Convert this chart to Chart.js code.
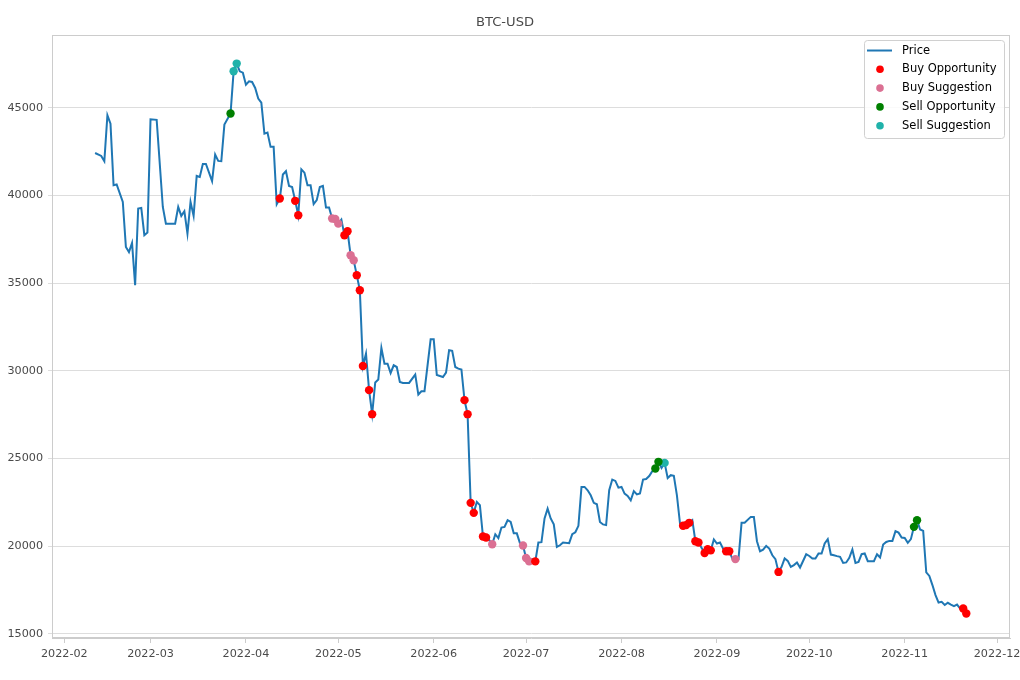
<!DOCTYPE html>
<html>
<head>
<meta charset="utf-8">
<script src="https://cdn.jsdelivr.net/npm/chart.js@4"></script>
<style>
  html, body { margin: 0; padding: 0; background: #fff; }
</style>
</head>
<body>
<canvas id="btc" width="1020" height="680"></canvas>
<script>
// day numbers count from 2022-02-01
const monthDays = [0, 28, 59, 89, 120, 150, 181, 212, 242, 273, 303];
const monthLabels = ['2022-02', '2022-03', '2022-04', '2022-05', '2022-06', '2022-07',
  '2022-08', '2022-09', '2022-10', '2022-11', '2022-12'];
const yTicks = [15000, 20000, 25000, 30000, 35000, 40000, 45000];

const days = [10, 12, 13, 14, 15, 16, 17, 19, 20, 21, 22, 23, 24, 25, 26, 27, 28, 30, 32, 33,
  36, 37, 38, 39, 40, 41, 42, 43, 44, 45, 46, 48, 49, 50, 51, 52,
  54, 55, 56, 57, 58, 59, 60, 61, 62, 63, 64, 65, 66, 67, 68, 69, 70, 71, 72, 73,
  74, 75, 76, 77, 78, 79, 80, 81, 82, 83, 84, 85, 86, 87, 88, 89, 90, 91, 92, 93,
  94, 95, 96, 97, 98, 99, 100, 101, 102, 103, 104, 105, 106, 107, 108,
  109, 110, 112, 114, 115, 116, 117,
  119, 120, 121, 122, 123, 124, 125, 126, 127, 128, 129, 130, 131, 132, 133, 134, 135, 136, 137, 138,
  139, 140, 141, 142, 143, 144, 145, 146, 147, 148, 149, 150, 151, 152, 153, 154, 155, 156, 157, 158,
  159, 160, 161, 162, 164, 165, 166, 167,
  168, 169, 170, 171, 172, 173, 174, 175, 176, 177, 178, 179, 180, 181, 182, 183, 184, 185, 186, 187,
  188, 189, 190, 191, 192, 193, 194, 195, 196, 197, 198, 199, 200, 201, 202, 203, 204, 205, 206,
  208, 209, 210, 211, 212, 213, 214, 215, 216, 217, 218, 219, 220, 221,
  223, 224, 225, 226, 227, 228, 229, 230, 231, 232, 233, 234, 235, 236, 237, 238, 239,
  241, 242, 243, 244, 245, 246, 247, 248, 249, 250, 251, 252, 253, 254, 255, 256, 257, 258, 259, 260, 261,
  262, 263, 264, 265, 266, 267, 268, 269, 270, 271, 272, 273, 274, 275, 276, 277, 278, 279, 280, 281,
  282, 283, 284, 285, 286, 287, 288, 289, 290, 291, 292, 293];

const prices = [42430, 42260, 41960, 44580, 44100, 40590, 40630, 39640, 37070, 36780, 37300, 34890, 39260, 39300, 37740, 37890, 44350, 44320, 39350, 38400,
  38400, 39350, 38840, 39110, 37830, 39640, 38840, 41120, 41060, 41800, 41800, 40820, 42340, 41980, 41960, 44050, 44680, 47090, 47530, 47090,
  47010, 46330, 46520, 46480, 46140, 45530, 45300, 43530, 43590, 42780, 42780, 39510, 39830, 41200, 41390, 40550, 40490, 39700, 38880, 41500,
  41310, 40590, 40590, 39510, 39740, 40490, 40550, 39320, 39320, 38690, 38660, 38400, 38630, 37740, 37970, 36600, 36310, 35460, 34600, 30280,
  30990, 28900, 27530, 29340, 29510, 31310, 30410, 30410, 29880, 30320, 30220, 29370, 29310, 29310, 29790, 28650, 28840, 28840, 31800, 31800,
  29760, 29710, 29650, 29900, 31180, 31140, 30220, 30130, 30080, 28330, 27530, 22470, 21900, 22520, 22340, 20550, 20490, 20360, 20110, 20680,
  20460, 21060, 21100, 21480, 21380, 20730, 20730, 20170, 20040, 19320, 19130, 19260, 19130, 20210, 20230, 21580, 22140, 21580, 21240, 19960,
  20050, 20210, 20170, 20680, 20790, 21160, 23380, 23380, 23190, 22900, 22470, 22390, 21380, 21240, 21200, 23190, 23800, 23720, 23340, 23380,
  23000, 22870, 22620, 23140, 22950, 23000, 23800, 23830, 24000, 24280, 24430, 24810, 24460, 24750, 23890, 24050, 24010, 22900, 21290, 21160,
  21200, 21330, 21480, 20280, 20210, 19610, 19820, 19760, 20380, 20150, 20210, 19860, 19710, 19710, 19290, 19260, 19260, 21330, 21330, 21670,
  21670, 20280, 19710, 19800, 20010, 19860, 19480, 19260, 18530, 18820, 19300, 19160, 18820, 18920, 19070, 18780, 19540, 19440, 19290, 19290,
  19580, 19580, 20150, 20400, 19520, 19480, 19430, 19390, 19040, 19070, 19330, 19810, 19040, 19100, 19540, 19580, 19140, 19140, 19140, 19540,
  19350, 20090, 20240, 20300, 20300, 20850, 20770, 20490, 20470, 20190, 20400, 21100, 21480, 20950, 20870, 18500, 18300, 17780, 17210, 16780,
  16820, 16640, 16770, 16670, 16580, 16670, 16440, 16440, 16160];

const buyOpportunityDays = [70, 75, 76, 91, 92, 95, 96, 97, 99, 100, 130, 131, 132, 133, 136, 137, 153,
  201, 202, 203, 205, 206, 208, 209, 210, 215, 216, 232, 292, 293];
const buySuggestionDays = [87, 88, 89, 93, 94, 139, 149, 150, 151, 218];
const sellOpportunityDays = [54, 192, 193, 276, 277];
const sellSuggestionDays = [55, 56, 195];

function pointsFor(list) {
  return list.map(d => ({ x: d, y: prices[days.indexOf(d)] }));
}

const FONT = 'DejaVu Sans';

const frame = {
  id: 'frame',
  afterDraw(chart) {
    const { ctx, chartArea: a } = chart;
    ctx.save();
    ctx.strokeStyle = '#cccccc';
    ctx.lineWidth = 1;
    ctx.strokeRect(Math.round(a.left) + 0.5, Math.round(a.top) + 0.5,
      Math.round(a.right - a.left) - 1, Math.round(a.bottom - a.top) - 1);
    ctx.restore();
  }
};

const legendBox = {
  id: 'legendBox',
  afterDraw(chart) {
    const { ctx, chartArea: a } = chart;
    const bx = a.right - 146, by = a.top + 5, bw = 140, bh = 98;
    ctx.save();
    ctx.fillStyle = 'rgba(255,255,255,0.85)';
    ctx.strokeStyle = '#d0d0d0';
    ctx.lineWidth = 1;
    ctx.beginPath();
    ctx.roundRect(bx + 0.5, by + 0.5, bw, bh, 3);
    ctx.fill();
    ctx.stroke();
    ctx.font = '11.5px "' + FONT + '"';
    ctx.textBaseline = 'middle';
    chart.data.datasets.forEach((ds, i) => {
      const yy = by + 10.5 + i * 18.8;
      if (ds.type === 'line') {
        ctx.strokeStyle = ds.borderColor;
        ctx.lineWidth = 2;
        ctx.beginPath();
        ctx.moveTo(bx + 3, yy);
        ctx.lineTo(bx + 28, yy);
        ctx.stroke();
      } else {
        ctx.fillStyle = ds.backgroundColor;
        ctx.beginPath();
        ctx.arc(bx + 16, yy, 3.8, 0, Math.PI * 2);
        ctx.fill();
      }
      ctx.fillStyle = '#000';
      ctx.fillText(ds.label, bx + 38, yy);
    });
    ctx.restore();
  }
};

function scatterSet(label, color, list) {
  return {
    type: 'scatter',
    label: label,
    data: pointsFor(list),
    backgroundColor: color,
    borderColor: color,
    pointRadius: 4.2,
    pointHoverRadius: 4.2,
    borderWidth: 0,
    order: 0
  };
}

new Chart(document.getElementById('btc'), {
  data: {
    datasets: [
      {
        type: 'line',
        label: 'Price',
        data: days.map((d, i) => ({ x: d, y: prices[i] })),
        borderColor: '#1f77b4',
        borderWidth: 2,
        pointRadius: 0,
        tension: 0,
        order: 1
      },
      scatterSet('Buy Opportunity', '#ff0000', buyOpportunityDays),
      scatterSet('Buy Suggestion', '#db7093', buySuggestionDays),
      scatterSet('Sell Opportunity', '#008000', sellOpportunityDays),
      scatterSet('Sell Suggestion', '#20b2aa', sellSuggestionDays)
    ]
  },
  options: {
    responsive: false,
    devicePixelRatio: 1,
    animation: false,
    layout: { padding: { right: 10 } },
    plugins: {
      legend: { display: false },
      tooltip: { enabled: false },
      title: {
        display: true,
        text: 'BTC-USD',
        color: '#4a4a4a',
        font: { family: FONT, size: 13.1, weight: 'normal' },
        padding: { top: 15, bottom: 4.3 }
      }
    },
    scales: {
      x: {
        type: 'linear',
        min: -4.0,
        max: 307.2,
        afterBuildTicks: s => { s.ticks = monthDays.map(v => ({ value: v })); },
        afterFit: s => { s.height = 42; s.paddingLeft = 0; s.paddingRight = 0; },
        ticks: {
          autoSkip: false,
          maxRotation: 0,
          color: '#4a4a4a',
          font: { family: FONT, size: 11.2 },
          padding: 4,
          callback: v => monthLabels[monthDays.indexOf(v)]
        },
        grid: { drawOnChartArea: false, drawTicks: true, tickLength: 5, color: '#cccccc' },
        border: { color: '#cccccc' }
      },
      y: {
        min: 14760,
        max: 49160,
        afterBuildTicks: s => { s.ticks = yTicks.map(v => ({ value: v })); },
        afterFit: s => { s.width = 52; s.paddingTop = 0; s.paddingBottom = 0; },
        ticks: {
          color: '#4a4a4a',
          font: { family: FONT, size: 11.2 },
          padding: 5,
          callback: v => String(v)
        },
        grid: { color: '#dddddd', tickLength: 4 },
        border: { color: '#cccccc' }
      }
    }
  },
  plugins: [frame, legendBox]
});
</script>
</body>
</html>
